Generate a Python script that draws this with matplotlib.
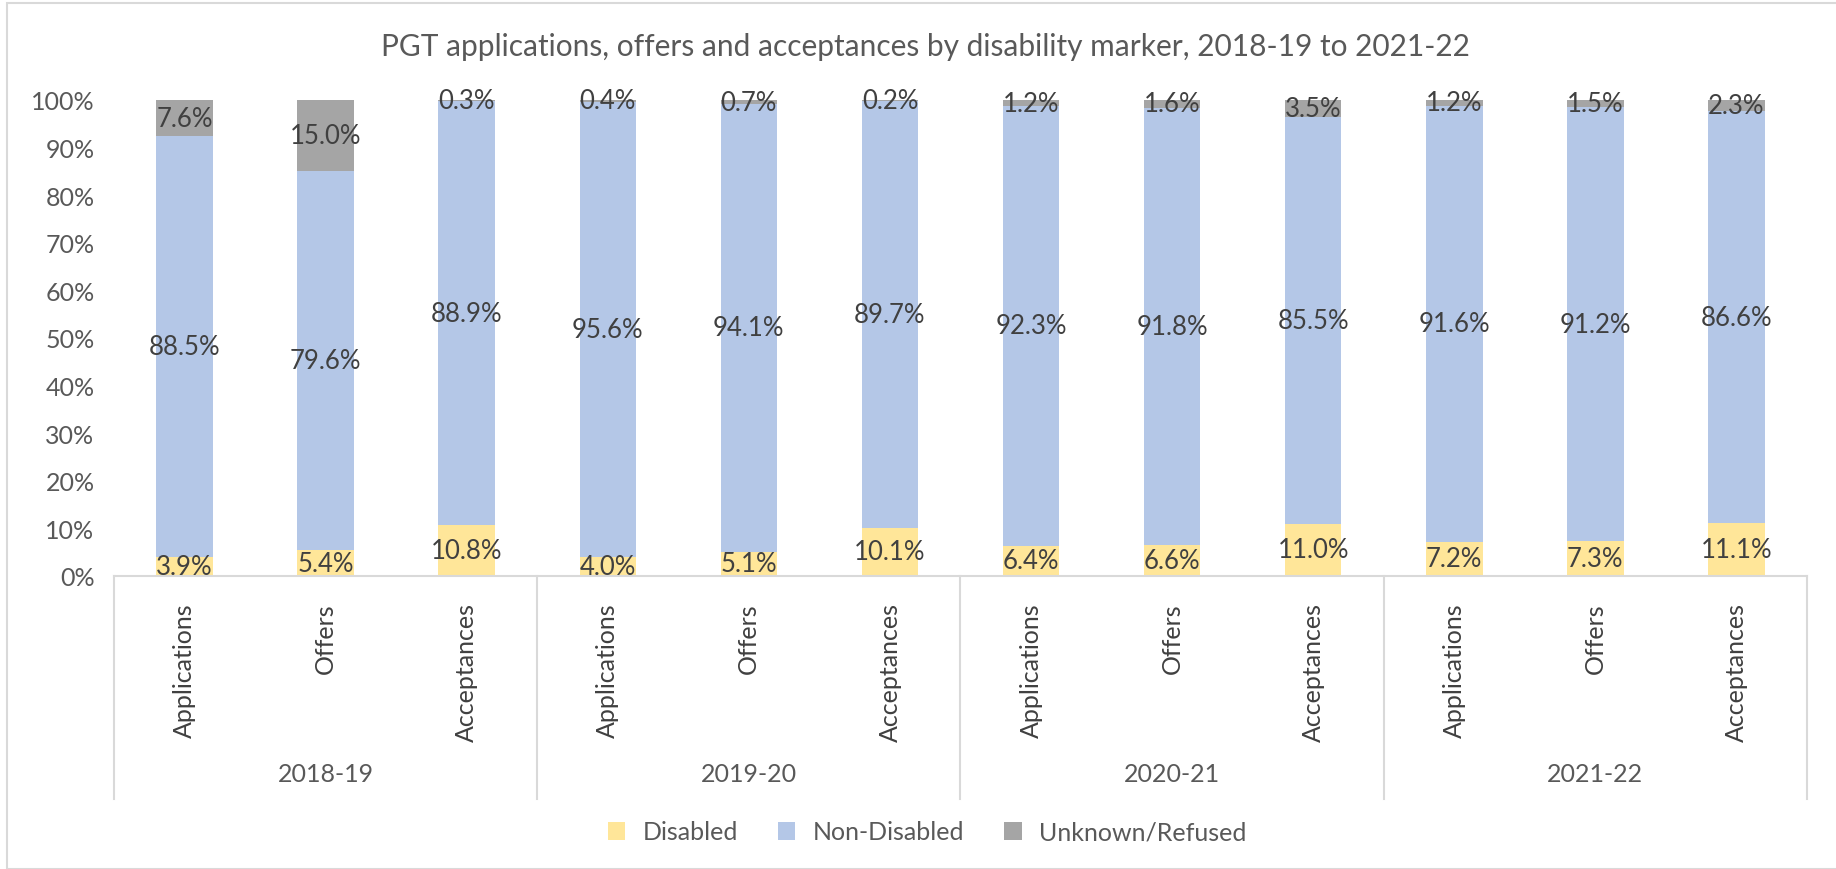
import matplotlib
matplotlib.use("Agg")
import matplotlib.pyplot as plt
from matplotlib.patches import Rectangle
import numpy as np

plt.rcParams['font.family'] = ['Lato', 'DejaVu Sans']

years = ["2018-19", "2019-20", "2020-21", "2021-22"]
stages = ["Applications", "Offers", "Acceptances"]
series_names = ["Disabled", "Non-Disabled", "Unknown/Refused"]
disabled = [3.9, 5.4, 10.8, 4.0, 5.1, 10.1, 6.4, 6.6, 11.0, 7.2, 7.3, 11.1]
non_disabled = [88.5, 79.6, 88.9, 95.6, 94.1, 89.7, 92.3, 91.8, 85.5, 91.6, 91.2, 86.6]
unknown = [7.6, 15.0, 0.3, 0.4, 0.7, 0.2, 1.2, 1.6, 3.5, 1.2, 1.5, 2.3]
colors = ["#FFE699", "#B4C7E7", "#A5A5A5"]

W, H = 1836, 870
fig = plt.figure(figsize=(W / 100, H / 100), dpi=100)
ax = fig.add_axes([114 / W, 1 - 577 / H, (1807 - 114) / W, (577 - 101) / H])

n = len(disabled)
x = np.arange(n)
bottom = np.zeros(n)
handles = []
for vals, col, name in zip([disabled, non_disabled, unknown], colors, series_names):
    vals = np.array(vals)
    b = ax.bar(x, vals, 0.4, bottom=bottom, color=col, label=name, zorder=2)
    handles.append(b)
    for xi, v, bt in zip(x, vals, bottom):
        ax.text(xi, bt + v / 2, f"{v:.1f}%", ha="center", va="center",
                fontsize=18.5, color="#404040", zorder=3)
    bottom += vals

ax.set_xlim(-0.5, n - 0.5)
ax.set_ylim(0, 100)
ax.set_yticks(np.arange(0, 101, 10))
ax.set_yticklabels([f"{v}%" for v in range(0, 101, 10)], fontsize=18, color="#595959")
ax.tick_params(axis="y", length=0, pad=14)
ax.set_xticks([])
for s in ["left", "right", "top"]:
    ax.spines[s].set_visible(False)
ax.spines["bottom"].set_color("#D9D9D9")
ax.spines["bottom"].set_linewidth(1.5)

# category labels
for i in range(n):
    ax.text(x[i], -0.055, stages[i % 3], transform=ax.get_xaxis_transform(),
            rotation=90, ha="center", va="top", fontsize=18, color="#404040")
# group dividers and labels
ybot = (1 - 800 / H - (1 - 577 / H)) / ((577 - 101) / H)
for g in range(len(years) + 1):
    xd = g * 3 - 0.5
    ax.plot([xd, xd], [0, ybot], transform=ax.get_xaxis_transform(),
            color="#D9D9D9", lw=1.5, clip_on=False)
for g, yr in enumerate(years):
    ax.text(g * 3 + 1, (1 - 775 / H - (1 - 577 / H)) / ((577 - 101) / H), yr,
            transform=ax.get_xaxis_transform(), ha="center", va="center",
            fontsize=18, color="#595959")

fig.text(0.504, 1 - 47 / H, "PGT applications, offers and acceptances by disability marker, 2018-19 to 2021-22",
         ha="center", va="center", fontsize=21.5, color="#595959")

fig.legend(handles=handles, labels=series_names, loc="center", bbox_to_anchor=(0.505, 1 - 833 / H),
           ncol=3, frameon=False, fontsize=18, handlelength=0.7, handleheight=0.7,
           columnspacing=1.6, handletextpad=0.7, labelcolor="#595959")

fig.add_artist(Rectangle((7 / W, 0), 1.0, 1 - 4 / H, transform=fig.transFigure,
                         fill=False, edgecolor="#D9D9D9", lw=1.5))

fig.savefig("out.png", dpi=100)
